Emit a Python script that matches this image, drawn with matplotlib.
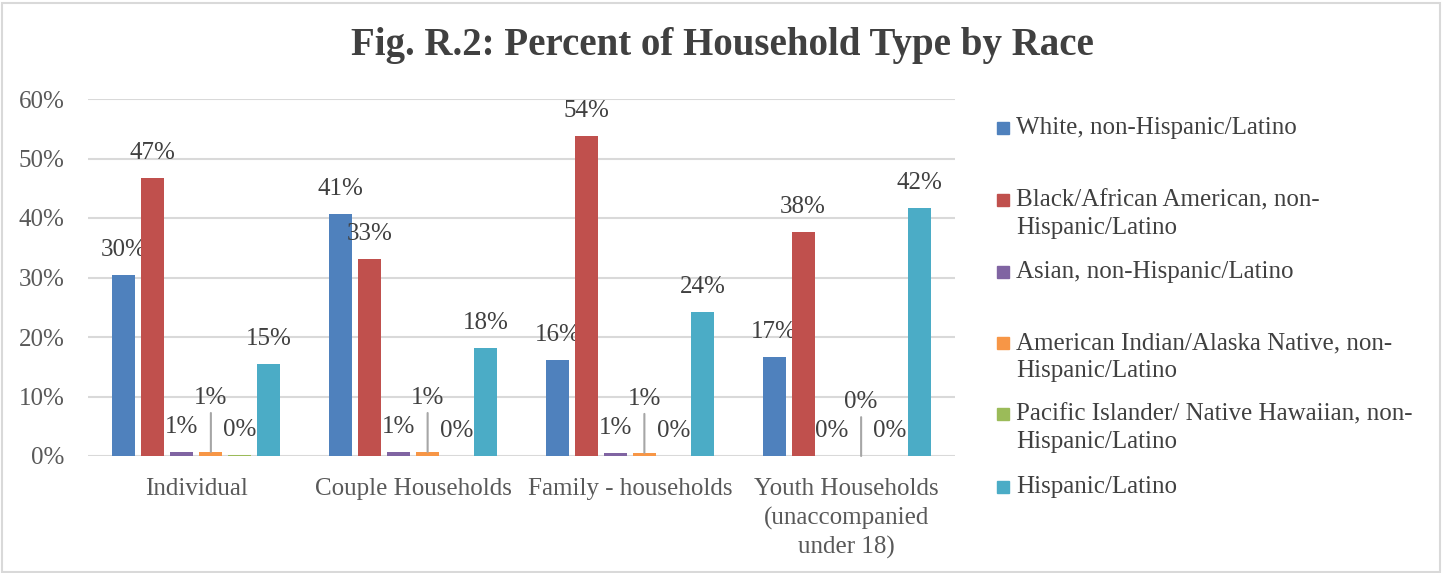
import matplotlib
matplotlib.use("Agg")
import matplotlib.pyplot as plt
from matplotlib.patches import Rectangle
import numpy as np

plt.rcParams['font.family'] = ['Liberation Serif', 'DejaVu Serif']

categories = ["Individual", "Couple Households", "Family - households",
              "Youth Households\n(unaccompanied\nunder 18)"]
series_names = ["White, non-Hispanic/Latino",
                "Black/African American, non-\nHispanic/Latino",
                "Asian, non-Hispanic/Latino",
                "American Indian/Alaska Native, non-\nHispanic/Latino",
                "Pacific Islander/ Native Hawaiian, non-\nHispanic/Latino",
                "Hispanic/Latino"]
white = [30.4, 40.6, 16.1, 16.6]
black = [46.7, 33.1, 53.8, 37.6]
asian = [0.7, 0.6, 0.55, 0.0]
am_indian = [0.7, 0.7, 0.55, 0.0]
pacific = [0.2, 0.0, 0.0, 0.0]
hispanic = [15.4, 18.1, 24.2, 41.6]
values = [white, black, asian, am_indian, pacific, hispanic]

colors = ["#4F81BD", "#C0504D", "#8064A2", "#F79646", "#9BBB59", "#4BACC6"]
txt = "#404040"

W, H = 1442, 573
fig = plt.figure(figsize=(W/100, H/100), dpi=100)
ax = fig.add_axes([88/W, 1-456/H, (955-88)/W, (456-99)/H])

x = np.arange(len(categories))
step = 29/216.75
bw = 23/216.75
for j, vals in enumerate(values):
    xs = x + (j-2.5)*step
    ax.bar(xs, vals, bw, color=colors[j], zorder=3)
    for xi, v in zip(xs, vals):
        lab = f"{v:.0f}%"
        if j == 3:
            # label pulled up with a leader line, like excel does
            ax.annotate(lab, (xi, v), xytext=(0, 54), textcoords='offset pixels',
                        ha='center', va='center', fontsize=18, color=txt,
                        arrowprops=dict(arrowstyle='-', color='#A6A6A6', lw=1.5,
                                        shrinkA=1, shrinkB=0, relpos=(0.5, 0)))
        else:
            ax.annotate(lab, (xi, v), xytext=(0, 25), textcoords='offset pixels',
                        ha='center', va='center', fontsize=18, color=txt)

ax.set_xlim(-0.5, 3.5)
ax.set_ylim(0, 60)
yt = np.arange(0, 61, 10)
ax.set_yticks(yt)
ax.set_yticklabels([f"{t}%" for t in yt])
ax.set_xticks(x)
ax.set_xticklabels(categories, linespacing=1.35)
ax.tick_params(axis='y', length=0, pad=17, labelsize=18, labelcolor='#595959')
ax.tick_params(axis='x', length=0, pad=16, labelsize=18, labelcolor='#595959')
ax.grid(axis='y', color='#D9D9D9', lw=1.5, zorder=0)
for s in ax.spines.values():
    s.set_visible(False)

fig.text(722/W, 1-46/H, "Fig. R.2: Percent of Household Type by Race",
         ha='center', va='center', fontsize=28, fontweight='bold', color=txt)

# legend drawn by hand, excel spacing is uneven
leg_y = [128, 200, 272, 343, 414, 487]
for j, name in enumerate(series_names):
    y0 = leg_y[j]
    fig.add_artist(Rectangle((997/W, 1-(y0+6)/H), 12/W, 12/H,
                             transform=fig.transFigure, color=colors[j]))
    for k, line in enumerate(name.split("\n")):
        fig.text(1016/W, 1-(y0+28*k)/H, line, ha='left', va='center',
                 fontsize=18, color=txt)

fig.add_artist(Rectangle((1.5/W, 1.5/H), 1438/W, 569/H, transform=fig.transFigure,
                         fill=False, edgecolor='#D9D9D9', lw=1.5))

fig.savefig("out.png", dpi=100)
